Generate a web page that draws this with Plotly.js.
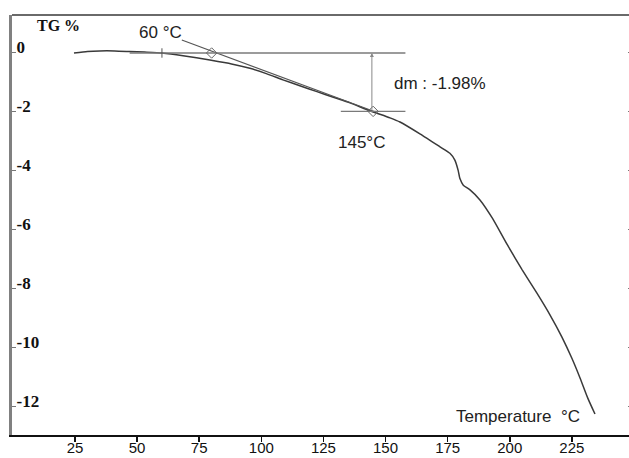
<!DOCTYPE html>
<html>
<head>
<meta charset="utf-8">
<script src="https://cdn.plot.ly/plotly-3.0.1.min.js"></script>
<style>
html,body{margin:0;padding:0;overflow:hidden;background:#fff;}
#chart{width:632px;height:458px;}
</style>
</head>
<body>
<div id="chart"></div>
<script>
// TG curve (temperature in °C, mass change in %)
const temperature = [24.6, 30, 35, 41, 47, 53, 60, 68.5, 79.3, 88, 95.4, 102, 108.7, 115.5, 122.4, 129, 135.7, 143.7, 151.8, 155.8, 164, 171.9, 175.9, 177.9, 179.2, 179.9, 181.3, 184, 188, 193, 199, 205, 211, 216, 221, 225, 228.2, 231.4, 234.3];
const tg = [0, 0.05, 0.07, 0.07, 0.05, 0.03, 0, -0.09, -0.24, -0.37, -0.52, -0.7, -0.91, -1.11, -1.31, -1.5, -1.69, -1.96, -2.2, -2.34, -2.75, -3.18, -3.40, -3.63, -3.97, -4.25, -4.48, -4.64, -4.98, -5.6, -6.5, -7.35, -8.15, -8.85, -9.63, -10.35, -11.0, -11.7, -12.24];

// construction lines
const tangentT = [68, 146];
const tangentV = [0.44, -2.0];
const baseT = [47, 158];
const baseV = [0, 0];
const stepT = [132, 158];
const stepV = [-1.98, -1.98];
const onsetTickT = [60, 60];
const onsetTickV = [0.16, -0.16];
const markerT = [80, 145];
const markerV = [0, -1.98];
const dmT = 144.5;
const dmV = -1.98;

const xTicks = [25, 50, 75, 100, 125, 150, 175, 200, 225];
const yTicks = [0, -2, -4, -6, -8, -10, -12];

const grey = '#7a7a7a';
const traces = [
  {x: temperature, y: tg, mode: 'lines', line: {color: '#3a3a3a', width: 1.5, shape: 'spline', smoothing: 0.5}, hoverinfo: 'skip'},
  {x: tangentT, y: tangentV, mode: 'lines', line: {color: '#555', width: 1.1}, hoverinfo: 'skip'},
  {x: baseT, y: baseV, mode: 'lines', line: {color: grey, width: 1.4}, hoverinfo: 'skip'},
  {x: stepT, y: stepV, mode: 'lines', line: {color: grey, width: 1.4}, hoverinfo: 'skip'},
  {x: onsetTickT, y: onsetTickV, mode: 'lines', line: {color: '#555', width: 1}, hoverinfo: 'skip'},
  {x: markerT, y: markerV, mode: 'markers', marker: {symbol: 'diamond-open', size: 8, color: '#666', line: {width: 1}}, hoverinfo: 'skip'}
];

const sans = 'Liberation Sans, Arial, sans-serif';
const serif = 'Liberation Serif, Times New Roman, serif';

const layout = {
  width: 632, height: 458,
  margin: {l: 12, r: 0, t: 15, b: 23},
  paper_bgcolor: '#fff', plot_bgcolor: '#fff',
  showlegend: false,
  xaxis: {
    range: [-0.35, 249.2], tickvals: xTicks, ticktext: xTicks.map(String),
    showgrid: false, zeroline: false,
    showline: true, linecolor: '#111', linewidth: 2,
    ticks: 'outside', ticklen: 5, tickcolor: '#111', tickwidth: 1.5,
    tickfont: {family: sans, size: 15, color: '#111'},
    ticklabelstandoff: -7
  },
  yaxis: {
    range: [-12.95, 1.288], tickvals: yTicks, ticktext: yTicks.map(String),
    showgrid: false, zeroline: false,
    showline: true, linecolor: '#808080', linewidth: 3, mirror: 'ticks',
    ticks: 'inside', ticklen: 4, tickcolor: '#777', tickwidth: 1,
    ticklabelposition: 'inside', ticklabelshift: -6, ticklabelstandoff: 1,
    tickfont: {family: serif, size: 17, color: '#111', weight: 'bold'}
  },
  shapes: [
    {type: 'line', xref: 'paper', yref: 'paper', x0: 0, x1: 1, y0: 1, y1: 1, line: {color: '#6a6a6a', width: 2}}
  ],
  annotations: [
    {xref: 'paper', yref: 'paper', x: 0.037, y: 0.975, xanchor: 'left', yanchor: 'middle', showarrow: false,
     text: 'TG %', font: {family: serif, size: 16, color: '#111', weight: 'bold'}},
    {x: 59.5, y: 0.68, showarrow: false, text: '60 °C', xanchor: 'center', yanchor: 'middle',
     font: {family: sans, size: 17, color: '#222'}},
    {x: 152.4, y: -1.02, showarrow: false, text: 'dm : -1.98%', xanchor: 'left', yanchor: 'middle',
     font: {family: sans, size: 17, color: '#222'}},
    {x: 140.2, y: -3.02, showarrow: false, text: '145°C', xanchor: 'center', yanchor: 'middle',
     font: {family: sans, size: 17, color: '#222'}},
    {x: 0.92, y: 0.043, xref: 'paper', yref: 'paper', showarrow: false, text: 'Temperature  °C', xanchor: 'right', yanchor: 'middle',
     font: {family: sans, size: 17, color: '#222'}},
    {x: dmT, y: 0, ax: dmT, ay: dmV, axref: 'x', ayref: 'y', showarrow: true, text: '',
     arrowhead: 2, arrowsize: 0.8, arrowwidth: 1, arrowcolor: '#888', startarrowhead: 0}
  ]
};

Plotly.newPlot('chart', traces, layout, {staticPlot: true, displayModeBar: false});
</script>
</body>
</html>
